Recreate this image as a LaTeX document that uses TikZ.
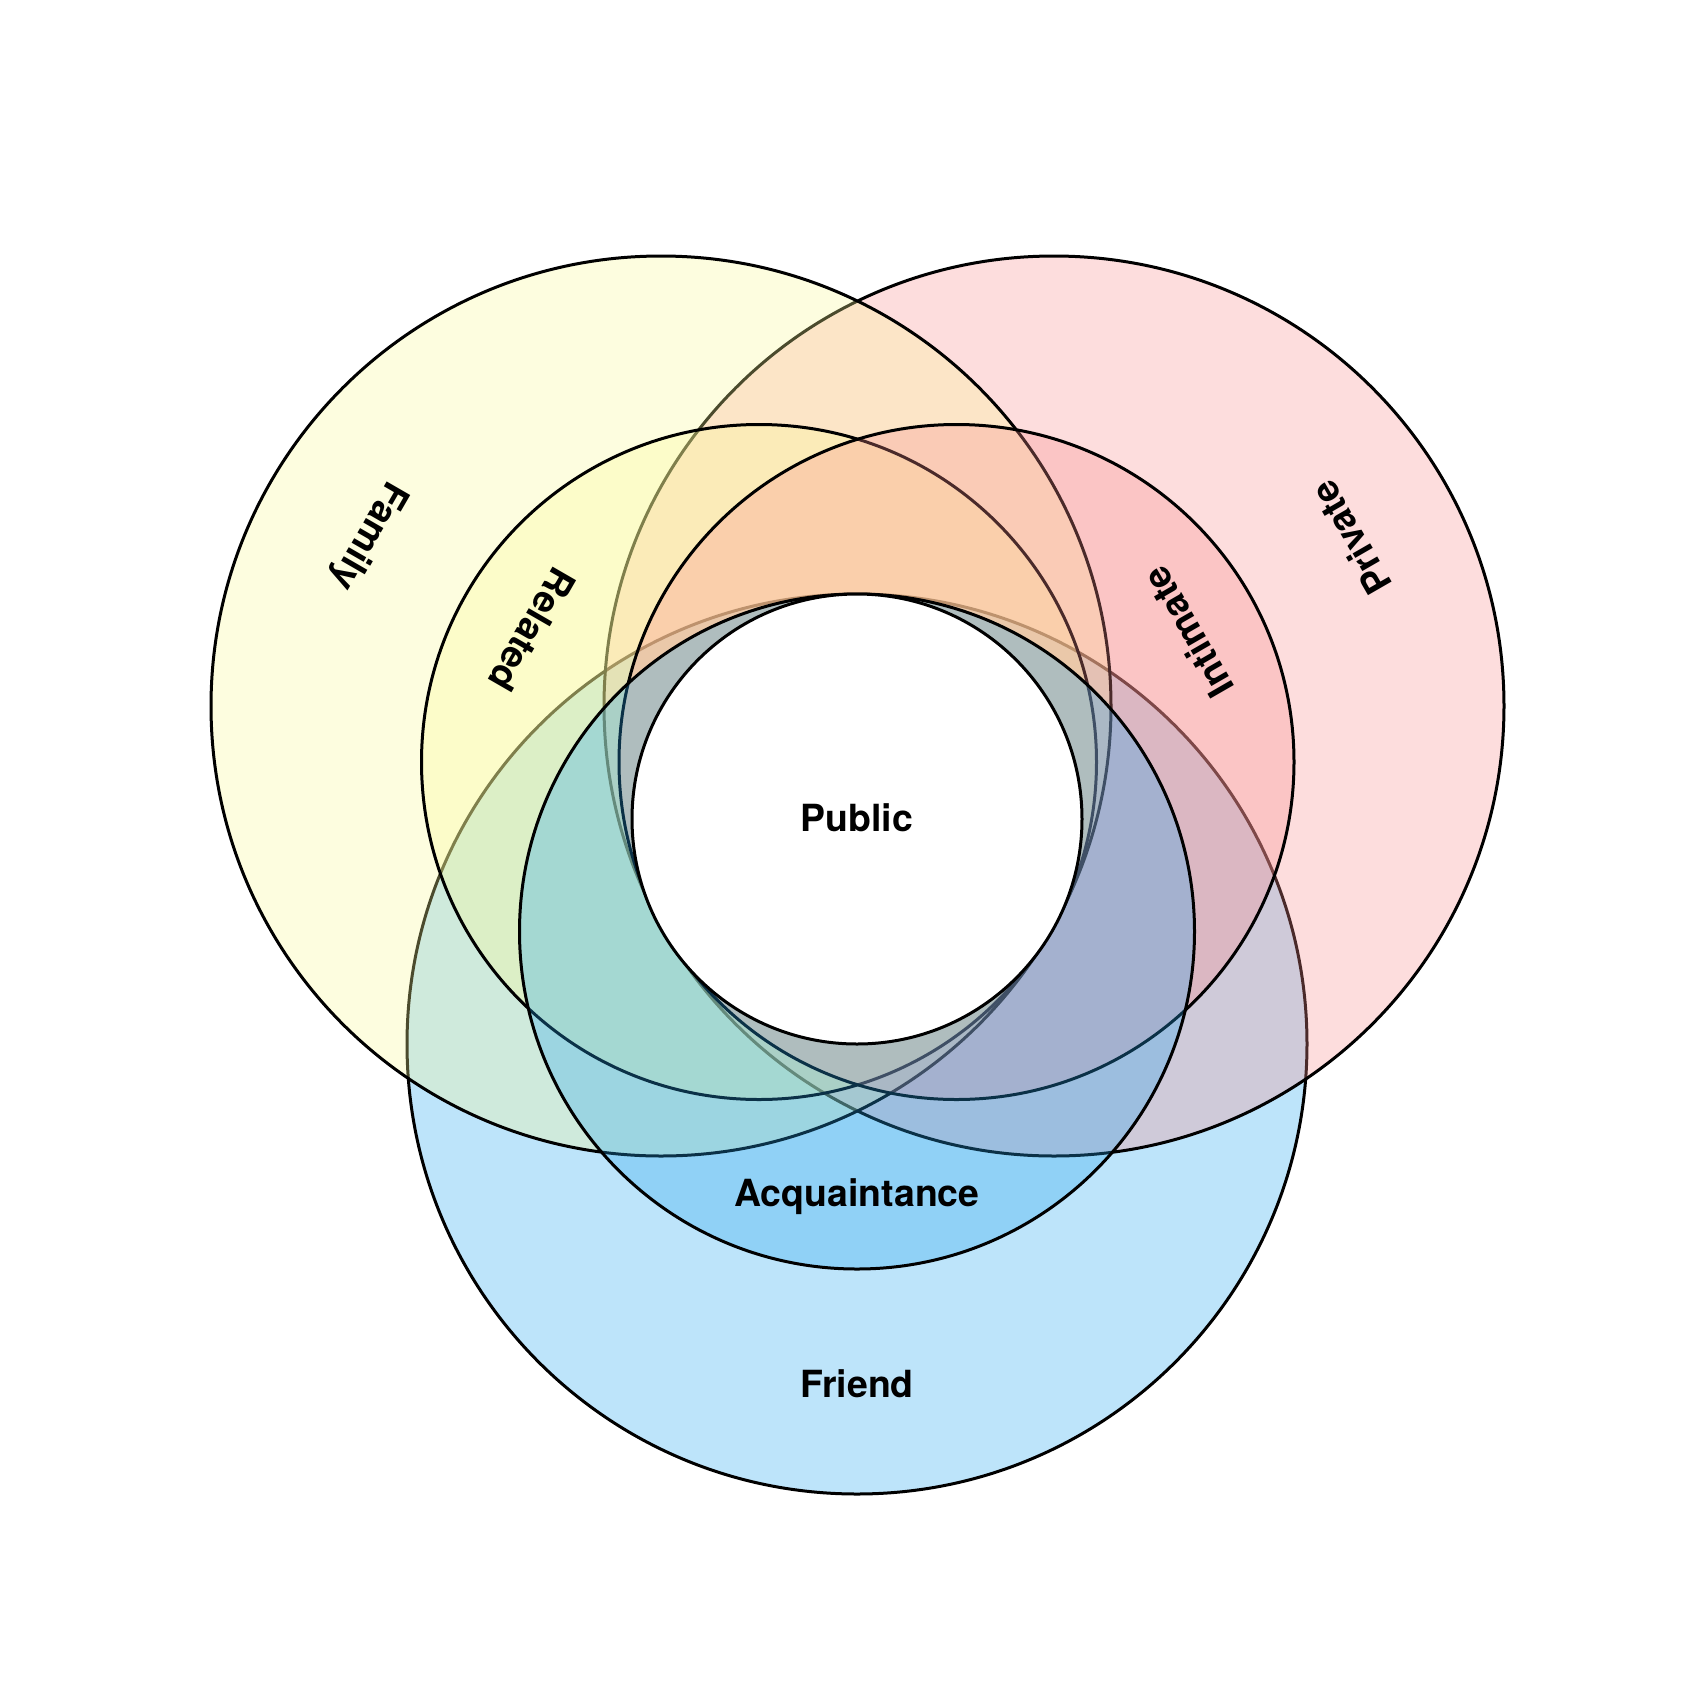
\documentclass[tikz,border=0pt]{standalone}
\usepackage{fontspec}
\setmainfont{TeX Gyre Heros}
\usepackage{xcolor}
\usepackage{tikz}

\begin{document}
\begin{tikzpicture}[x=0.5pt,y=0.5pt,yscale=-1,xscale=1,
    ring/.style={line width=1.5pt, fill opacity=0.3, draw opacity=1},
    lbl/.style={inner sep=0.75pt, font=\fontsize{18.7}{22}\selectfont\bfseries}]
            \path[use as bounding box] (0,0) rectangle (1703,1687); %set diagram size 1703 x 1687

            %Shape: Circle [id:dp1] friend
            \draw [ring, fill={rgb, 255:red, 38; green, 165; blue, 238 }] (857,1044) circle [radius=450] ;
            %Shape: Circle [id:dp2] private
            \draw [ring, fill={rgb, 255:red, 248; green, 142; blue, 142 }] (1054,706) circle [radius=450] ;
            %Shape: Circle [id:dp3] family
            \draw [ring, fill={rgb, 255:red, 250; green, 250; blue, 150 }] (661,706) circle [radius=450] ;
            %Shape: Circle [id:dp4] related
            \draw [ring, fill={rgb, 255:red, 250; green, 250; blue, 150 }] (759,762) circle [radius=337.5] ;
            %Shape: Circle [id:dp5] intimate
            \draw [ring, fill={rgb, 255:red, 248; green, 142; blue, 142 }] (956.5,762) circle [radius=337.5] ;
            %Shape: Circle [id:dp6] acquaintance
            \draw [ring, fill={rgb, 255:red, 38; green, 165; blue, 238 }] (857,931.5) circle [radius=337.5] ;
            %Shape: Circle [id:dp7] public
            \draw [line width=1.5pt, fill=white] (857,819) circle [radius=225] ;

            % Text Node
            \draw (857,818) node [lbl] (public) {Public};
            % Text Node
            \draw (857,1197) node [lbl] (acquaintance) {Acquaintance};
            % Text Node
            \draw (857,1384) node [lbl] (friend) {Friend};
            % Text Node
            \draw (368,535) node [lbl, rotate=-120] (family) {Family};
            % Text Node
            \draw (532,630) node [lbl, rotate=-120] (related) {Related};
            % Text Node
            \draw (1188,632) node [lbl, rotate=120] (intimate) {Intimate};
            % Text Node
            \draw (1351,538) node [lbl, rotate=120] (private) {Private};

\end{tikzpicture}
\end{document}
